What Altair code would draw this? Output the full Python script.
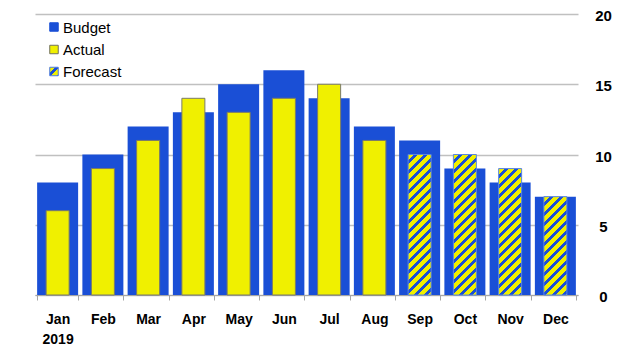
import altair as alt
import pandas as pd

months = ["Jan", "Feb", "Mar", "Apr", "May", "Jun", "Jul", "Aug", "Sep", "Oct", "Nov", "Dec"]
budget = [8, 10, 12, 13, 15, 16, 14, 12, 11, 9, 8, 7]
actual_months = ["Jan", "Feb", "Mar", "Apr", "May", "Jun", "Jul", "Aug"]
actual = [6, 9, 11, 14, 13, 14, 15, 11]
forecast_months = ["Sep", "Oct", "Nov", "Dec"]
forecast = [10, 10, 9, 7]
legend_labels = ["Budget", "Actual", "Forecast"]
y_ticks = [0, 5, 10, 15, 20]

BLUE = "#1a4fd6"
YELLOW = "#f0f000"
W, H = 543, 281
INNER_W = 23


def hatch(w, h, period=10.0, frac=0.6):
    r = w / h
    s = (r + 1) / (r * r + 1)
    step = period / (w + h)
    stops = []
    t = 0.0
    while t < 1:
        a = min(t + frac * step, 1.0)
        b = min(t + step, 1.0)
        stops += [{"offset": t, "color": YELLOW}, {"offset": a, "color": YELLOW},
                  {"offset": a, "color": BLUE}, {"offset": b, "color": BLUE}]
        t += step
    return {"gradient": "linear", "x1": 0, "y1": 0, "x2": s * r, "y2": s, "stops": stops}


df_b = pd.DataFrame({"month": months, "value": budget})
df_a = pd.DataFrame({"month": actual_months, "value": actual})
df_f = pd.DataFrame({"month": forecast_months, "value": forecast})

x_enc = alt.X(
    "month:N", sort=months,
    scale=alt.Scale(domain=months, paddingInner=0.094, paddingOuter=0.047),
    axis=alt.Axis(title=None, labelAngle=0, labelFontWeight="bold", labelFontSize=14,
                  labelColor="black", labelFont="Liberation Sans",
                  labelExpr="datum.value == 'Jan' ? ['Jan', '2019'] : datum.value",
                  labelLineHeight=20, labelPadding=12, tickBand="extent",
                  domainColor="#a6a6a6", tickColor="#a6a6a6", tickSize=5, grid=False),
)
y_enc = alt.Y(
    "value:Q", scale=alt.Scale(domain=[0, 20], nice=False),
    axis=alt.Axis(title=None, orient="right", values=y_ticks, domain=False, ticks=False,
                  labelPadding=25, labelAlign="center", labelFontWeight="bold",
                  labelFontSize=15, labelColor="black", labelFont="Liberation Sans",
                  labelOffset=1.5, gridColor="#c0c0c0", gridWidth=1.5),
)

budget_bars = alt.Chart(df_b).mark_bar(color=BLUE).encode(x=x_enc, y=y_enc)
actual_bars = alt.Chart(df_a).mark_bar(
    color=YELLOW, width=INNER_W, stroke="#7a7a6a", strokeWidth=1
).encode(x=x_enc, y=y_enc)

layers = [budget_bars, actual_bars]
for m, v in zip(forecast_months, forecast):
    g = hatch(INNER_W, v * H / 20.0)
    layers.append(
        alt.Chart(df_f).transform_filter(alt.datum.month == m).mark_bar(
            width=INNER_W, stroke="#5b86e0", strokeWidth=1
        ).encode(x=x_enc, y=y_enc, fill=alt.value(g))
    )

# legend
df_l = pd.DataFrame({"label": legend_labels})
leg_y = [13, 35.5, 57.5]
leg_fill = [BLUE, YELLOW, hatch(9, 9)]
leg_stroke = [BLUE, "#707060", "#4a78e0"]
for lab, yy, fl, st in zip(legend_labels, leg_y, leg_fill, leg_stroke):
    layers.append(
        alt.Chart(df_l).transform_filter(alt.datum.label == lab).mark_square(
            size=72, opacity=1, stroke=st, strokeWidth=1
        ).encode(x=alt.value(19), y=alt.value(yy), fill=alt.value(fl))
    )
    layers.append(
        alt.Chart(df_l).transform_filter(alt.datum.label == lab).mark_text(
            align="left", baseline="middle", fontSize=15, font="Liberation Sans", color="black"
        ).encode(x=alt.value(28), y=alt.value(yy + 0.5), text="label:N")
    )

chart = alt.layer(*layers).properties(
    width=W, height=H,
    autosize=alt.AutoSizeParams(type="none"),
    padding={"left": 27, "top": 6, "right": 35, "bottom": 56},
).configure_view(stroke=None)

chart.save("out.html", embed_options={"renderer": "svg", "actions": False})
